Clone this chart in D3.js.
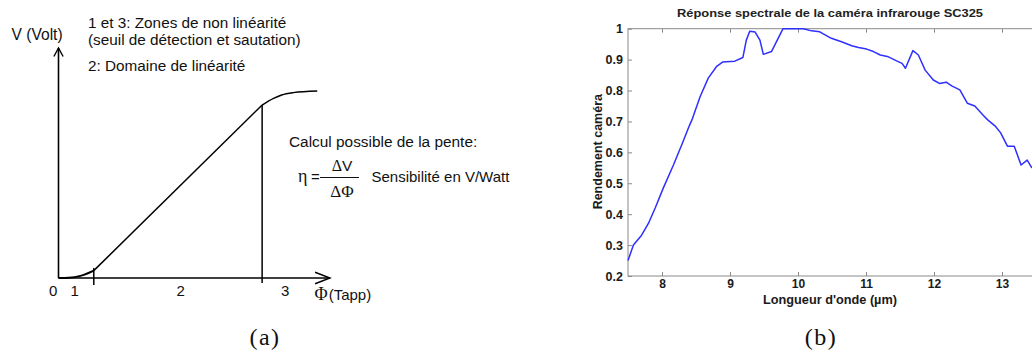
<!DOCTYPE html>
<html><head><meta charset="utf-8">
<script src="https://cdn.jsdelivr.net/npm/d3@7"></script>
<style>
html,body{margin:0;padding:0;background:#fff;}
svg{display:block;}
</style></head>
<body>
<svg id="c" width="1032" height="358"></svg>
<script>
// ---------- Panel (a) data (schematic, abstract units 0..10) ----------
const zone1Phi = [0, 0.38, 0.81, 1.30];
const zone1V   = [0, 0.01, 0.09, 0.32];
const zone2Phi = [1.30, 7.5];
const zone2V   = [0.32, 7.52];
const zone3Phi = [7.5, 7.92, 8.22, 8.65, 9.53];
const zone3V   = [7.52, 7.81, 7.96, 8.06, 8.13];
const zoneBounds = [1.30, 7.5];
const zoneLabels = ["0", "1", "2", "3"];
const zoneLabelPhi = [-0.2, 0.6, 4.5, 8.35];

// ---------- Panel (b) data ----------
const wavelength = [7.5, 7.58, 7.70, 7.80, 7.90, 8.02, 8.17, 8.31, 8.40, 8.44,
  8.56, 8.68, 8.80, 8.89, 9.07, 9.19, 9.24, 9.29, 9.37, 9.44,
  9.49, 9.61, 9.78, 9.90, 10.08, 10.20, 10.32, 10.49, 10.64, 10.79,
  10.89, 11.01, 11.11, 11.21, 11.33, 11.45, 11.53, 11.58, 11.69, 11.77,
  11.87, 11.99, 12.08, 12.18, 12.26, 12.38, 12.49, 12.60, 12.72, 12.79,
  12.90, 12.98, 13.08, 13.18, 13.28, 13.37, 13.43, 13.5];
const response = [0.25, 0.30, 0.332, 0.37, 0.42, 0.485, 0.56, 0.635, 0.685, 0.705,
  0.78, 0.84, 0.877, 0.892, 0.895, 0.907, 0.963, 0.992, 0.989, 0.963,
  0.917, 0.926, 1.0, 1.0, 1.0, 0.993, 0.99, 0.969, 0.958, 0.945,
  0.939, 0.934, 0.926, 0.915, 0.909, 0.896, 0.888, 0.872, 0.929, 0.915,
  0.866, 0.834, 0.823, 0.827, 0.815, 0.802, 0.759, 0.75, 0.721, 0.705,
  0.685, 0.663, 0.62, 0.62, 0.559, 0.575, 0.553, 0.54];
const xTicks = [8, 9, 10, 11, 12, 13];
const yTicks = [0.2, 0.3, 0.4, 0.5, 0.6, 0.7, 0.8, 0.9, 1];
const yTickLabels = ["0.2","0.3","0.4","0.5","0.6","0.7","0.8","0.9","1"];

const svg = d3.select("#c");
const sans = "'Liberation Sans', Arial, sans-serif";
const serif = "'Liberation Serif', 'Times New Roman', serif";

// ================= Panel (a) =================
const ga = svg.append("g");
const xA = d3.scaleLinear().domain([0, 10]).range([58.5, 330]);
const yA = d3.scaleLinear().domain([0, 10]).range([278, 48]);
const lineA = d3.line().x(d => xA(d[0])).y(d => yA(d[1]));
const blk = {stroke: "#000", "stroke-width": 1.6, fill: "none"};
function styl(sel, o){ for (const k in o) sel.attr(k, o[k]); return sel; }

// axes
styl(ga.append("path").attr("d", lineA([[0,0],[0,10]])), blk);
styl(ga.append("path").attr("d", lineA([[0,0],[10,0]])), blk);
styl(ga.append("path").attr("d", lineA([[-0.17,9.63],[0,10],[0.17,9.63]])), blk).attr("stroke-width",1.4);
styl(ga.append("path").attr("d", lineA([[9.45,0.25],[10,0],[9.45,-0.25]])), blk).attr("stroke-width",1.4);

// curve
const lineSmooth = d3.line().x(d => xA(d[0])).y(d => yA(d[1])).curve(d3.curveMonotoneX);
styl(ga.append("path").attr("d", lineSmooth(zone1Phi.map((p,i)=>[p, zone1V[i]]))), blk).attr("stroke-width",1.8);
styl(ga.append("path").attr("d", lineA(zone2Phi.map((p,i)=>[p, zone2V[i]]))), blk).attr("stroke-width",1.5);
styl(ga.append("path").attr("d", lineSmooth(zone3Phi.map((p,i)=>[p, zone3V[i]]))), blk).attr("stroke-width",1.5);

// zone boundaries
styl(ga.append("path").attr("d", lineA([[zoneBounds[0],-0.3],[zoneBounds[0],0.43]])), blk).attr("stroke-width",1.5);
styl(ga.append("path").attr("d", lineA([[zoneBounds[1],-0.22],[zoneBounds[1],zone3V[0]]])), blk).attr("stroke-width",1.5);

// zone labels
ga.selectAll("text.zl").data(zoneLabels).join("text").attr("class","zl")
  .attr("x",(d,i)=>xA(zoneLabelPhi[i])).attr("y",296)
  .attr("text-anchor","middle").attr("font-family",sans).attr("font-size",15).attr("fill","#111")
  .text(d=>d);

function txt(g, px, py, s, size, fam, anchor){
  return g.append("text").attr("x",px).attr("y",py).attr("font-family",fam||sans)
    .attr("font-size",size||15).attr("fill","#111").attr("text-anchor",anchor||"start").text(s);
}
txt(ga, 11.5, 39.5, "V (Volt)", 15.6);
txt(ga, 88, 27.5, "1 et 3: Zones de non linéarité", 15.3);
txt(ga, 88, 45, "(seuil de détection et sautation)", 15.3);
txt(ga, 88, 70.5, "2: Domaine de linéarité", 15.3);
txt(ga, 289, 146.5, "Calcul possible de la pente:", 15.4);
txt(ga, 298, 182, "η", 18, serif);
txt(ga, 311, 182, "=", 15, sans);
ga.append("line").attr("x1",320).attr("x2",359).attr("y1",177.5).attr("y2",177.5).attr("stroke","#111").attr("stroke-width",1.2);
const dv = txt(ga, 342, 170.5, "", 16, serif, "middle");
dv.append("tspan").text("Δ"); dv.append("tspan").attr("font-family",sans).attr("font-size",15.5).text("V");
txt(ga, 342, 196.5, "ΔΦ", 17, serif, "middle");
txt(ga, 371.5, 182, "Sensibilité en V/Watt", 15);
const ph = txt(ga, 314.5, 300, "Φ", 18, serif);
ph.append("tspan").attr("font-family",sans).attr("font-size",15).attr("dx",1).text("(Tapp)");
txt(ga, 265, 345, "(a)", 24, serif, "middle").attr("letter-spacing",1.5);

// ================= Panel (b) =================
const gb = svg.append("g");
const xB = d3.scaleLinear().domain([7.5, 13.5]).range([628, 1036]);
const yB = d3.scaleLinear().domain([0.2, 1]).range([276, 28.7]);
const axCol = "#8a8a8a";

// box
gb.append("rect").attr("x",xB(7.5)).attr("y",yB(1)).attr("width",xB(13.5)-xB(7.5)).attr("height",yB(0.2)-yB(1))
  .attr("fill","none").attr("stroke",axCol).attr("stroke-width",1);

// axes (inward ticks, MATLAB style)
const axBot = gb.append("g").attr("transform",`translate(0,${yB(0.2)})`)
  .call(d3.axisBottom(xB).tickValues(xTicks).tickSize(-4).tickPadding(3.5).tickFormat(d3.format("d")));
const axTop = gb.append("g").attr("transform",`translate(0,${yB(1)})`)
  .call(d3.axisTop(xB).tickValues(xTicks).tickSize(-4).tickFormat(""));
const axLeft = gb.append("g").attr("transform",`translate(${xB(7.5)},0)`)
  .call(d3.axisLeft(yB).tickValues(yTicks).tickSize(-4).tickPadding(5).tickFormat((d,i)=>yTickLabels[i]));
const axRight = gb.append("g").attr("transform",`translate(${xB(13.5)},0)`)
  .call(d3.axisRight(yB).tickValues(yTicks).tickSize(-4).tickFormat(""));
[axBot, axTop, axLeft, axRight].forEach(a => {
  a.select(".domain").remove();
  a.selectAll(".tick line").attr("stroke",axCol);
  a.selectAll("text").attr("font-family",sans).attr("font-weight","bold").attr("fill","#1a1a1a");
});
axBot.selectAll("text").attr("font-size",12);
axLeft.selectAll("text").attr("font-size",12.5);

// curve
gb.append("path").datum(wavelength.map((w,i)=>[w, response[i]]))
  .attr("d", d3.line().x(d=>xB(d[0])).y(d=>yB(d[1])))
  .attr("fill","none").attr("stroke","#2f2fff").attr("stroke-width",1.5).attr("stroke-linejoin","round");

// labels
txt(gb, 830, 17, "Réponse spectrale de la caméra infrarouge SC325", 11.5, sans, "middle")
  .attr("font-weight","bold").attr("textLength",306).attr("lengthAdjust","spacingAndGlyphs").attr("fill","#222");
txt(gb, 830, 303.5, "Longueur d'onde (µm)", 12, sans, "middle").attr("font-weight","bold")
  .attr("textLength",134).attr("lengthAdjust","spacingAndGlyphs").attr("fill","#1a1a1a");
txt(gb, 0, 0, "Rendement caméra", 12.5, sans, "middle").attr("font-weight","bold")
  .attr("transform","translate(602,151.7) rotate(-90)").attr("fill","#1a1a1a");
txt(gb, 821, 345, "(b)", 24, serif, "middle").attr("letter-spacing",1.5);
</script>
</body></html>
